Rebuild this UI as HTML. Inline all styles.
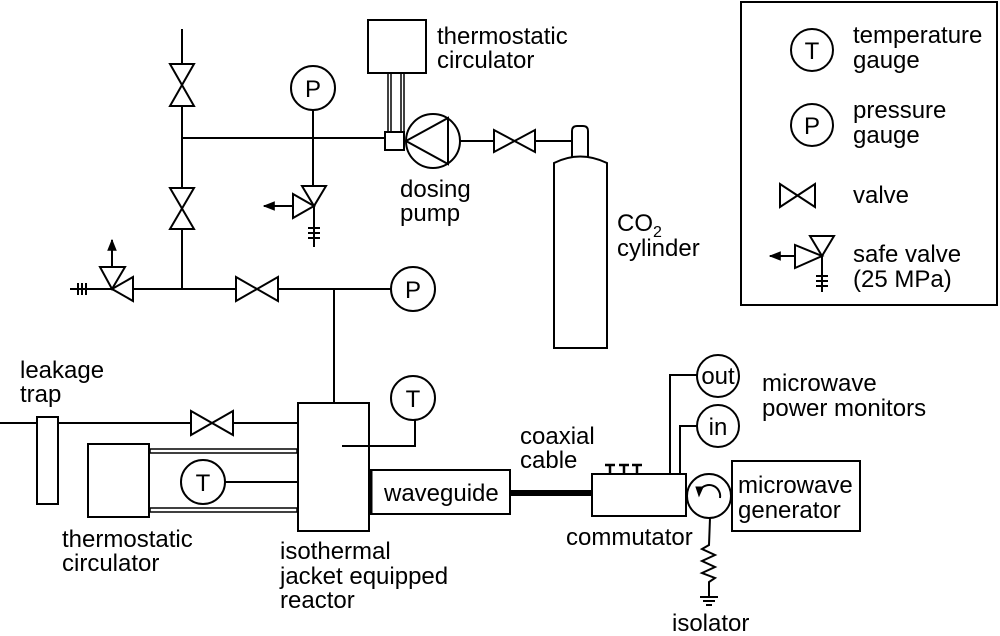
<!DOCTYPE html>
<html><head><meta charset="utf-8"><style>
html,body{margin:0;padding:0;background:#fff}
svg{display:block}
text{font-family:"Liberation Sans",Arial,sans-serif;font-size:24px;fill:#000}
</style></head><body>
<svg width="1000" height="636" viewBox="0 0 1000 636" xmlns="http://www.w3.org/2000/svg">
<defs>
<marker id="ah" viewBox="0 0 10 10" refX="9" refY="5" markerWidth="6" markerHeight="6" orient="auto"><path d="M0,1 L10,5 L0,9 Z" fill="#000"/></marker>
</defs>
<g stroke="#000" stroke-width="2" fill="none">
<rect x="741" y="2" width="256" height="303"/>
<circle cx="812" cy="50" r="21"/>
<circle cx="812" cy="125" r="21"/>
<path d="M780,184 L780,207 L815,184 L815,207 Z"/>
<path d="M810,236 L834,236 L822,256 Z"/>
<path d="M795,245 L795,268 L822,256 Z"/>
<path d="M795,256 L770,256" marker-end="url(#ah)"/>
<path d="M822,256 L822,292 M816,276 L828,276 M816,281 L828,281 M816,286 L828,286"/>

<path d="M182,29 L182,289"/>
<path d="M170,64 L194,64 L170,106 L194,106 Z" fill="#fff"/>
<path d="M170,188 L194,188 L170,229 L194,229 Z" fill="#fff"/>
<path d="M182,138 L385,138"/>
<circle cx="313" cy="88" r="22"/>
<path d="M313,110 L313,186"/>
<path d="M302,186 L326,186 L314,206 Z"/>
<path d="M293,194 L293,218 L314,206 Z"/>
<path d="M293,206 L264,206" marker-end="url(#ah)"/>
<path d="M314,206 L314,247 M308,228 L320,228 M308,233 L320,233 M308,238 L320,238"/>
<rect x="368" y="20" width="58" height="53"/>
<path d="M388,74 L388,132 M391,74 L391,132 M401,74 L401,132 M404,74 L404,132" stroke-width="1.5"/>
<rect x="385" y="132" width="19" height="18"/>
<circle cx="433" cy="141" r="27"/>
<path d="M406,141 L448,118 L448,164 Z"/>
<path d="M460,141 L494,141"/>
<path d="M494,130 L494,152 L535,130 L535,152 Z"/>
<path d="M535,141 L572,141"/>
<path d="M572,157 L572,131 Q572,126 577,126 L583,126 Q588,126 588,131 L588,157"/>
<path d="M554,348 L554,163 Q580,150 607,163 L607,348 Z"/>

<path d="M70,289 L391,289"/>
<path d="M78,283 L78,295 M82,283 L82,295 M86,283 L86,295"/>
<path d="M100,267 L125,267 L112,289 Z" fill="#fff"/>
<path d="M133,277 L133,301 L112,289 Z" fill="#fff"/>
<path d="M112,267 L112,240" marker-end="url(#ah)"/>
<path d="M236,277 L236,301 L278,277 L278,301 Z" fill="#fff"/>
<circle cx="413" cy="289" r="22"/>
<path d="M334,289 L334,403"/>

<path d="M0,423 L298,423"/>
<rect x="37" y="417" width="21" height="87" fill="#fff"/>
<path d="M191,411 L191,435 L233,411 L233,435 Z" fill="#fff"/>
<rect x="298" y="403" width="71" height="128"/>
<rect x="88" y="444" width="61" height="73"/>
<rect x="150" y="449" width="147" height="4" stroke-width="1.5"/>
<rect x="150" y="508" width="147" height="4" stroke-width="1.5"/>
<circle cx="203" cy="482" r="22"/>
<path d="M225,482 L298,482"/>
<circle cx="413" cy="398" r="22"/>
<path d="M415,420 L415,446 L342,446"/>
<rect x="370" y="470" width="140" height="44"/>
<path d="M371,470 L371,514" stroke-width="3"/>

<path d="M510,493 L592,493" stroke-width="6"/>
<rect x="592" y="474" width="94" height="42"/>
<path d="M610,474 L610,466 M605,465 L615,465 M624,474 L624,466 M619,465 L629,465 M637,474 L637,466 M632,465 L642,465" stroke-width="2.5"/>
<circle cx="718" cy="376" r="21"/>
<circle cx="718" cy="426" r="21"/>
<path d="M670,474 L670,375 L697,375"/>
<path d="M680,474 L680,426 L697,426"/>
<circle cx="709" cy="496" r="22"/>
<path d="M720,498 A11,11 0 0 0 700,490"/>
<path d="M696,487 L703,487 L699,496 Z" fill="#000" stroke-width="1"/>
<path d="M710,518 L709,545 L702,549 L715,555 L702,561 L715,567 L702,573 L715,578 L709,582 L709,597 M700,597 L718,597 M703,601 L715,601 M706,605 L712,605"/>
<rect x="732" y="461" width="128" height="70"/>
</g>
<g>
<text x="853" y="43">temperature</text>
<text x="853" y="68">gauge</text>
<text x="853" y="118">pressure</text>
<text x="853" y="143">gauge</text>
<text x="853" y="203">valve</text>
<text x="853" y="262">safe valve</text>
<text x="853" y="287">(25 MPa)</text>
<text x="812" y="59" text-anchor="middle">T</text>
<text x="812" y="134" text-anchor="middle">P</text>
<text x="313" y="97" text-anchor="middle">P</text>
<text x="413" y="298" text-anchor="middle">P</text>
<text x="203" y="491" text-anchor="middle">T</text>
<text x="413" y="407" text-anchor="middle">T</text>
<text x="718" y="384" text-anchor="middle">out</text>
<text x="718" y="435" text-anchor="middle">in</text>
<text x="437" y="44">thermostatic</text>
<text x="437" y="68">circulator</text>
<text x="400" y="197">dosing</text>
<text x="400" y="221">pump</text>
<text x="617" y="231">CO<tspan font-size="16" dy="6">2</tspan></text>
<text x="617" y="256">cylinder</text>
<text x="20" y="378">leakage</text>
<text x="20" y="402">trap</text>
<text x="62" y="547">thermostatic</text>
<text x="62" y="571">circulator</text>
<text x="280" y="559">isothermal</text>
<text x="280" y="584">jacket equipped</text>
<text x="280" y="608">reactor</text>
<text x="384" y="501">waveguide</text>
<text x="520" y="444">coaxial</text>
<text x="520" y="468">cable</text>
<text x="566" y="545">commutator</text>
<text x="672" y="631">isolator</text>
<text x="762" y="391">microwave</text>
<text x="762" y="416">power monitors</text>
<text x="738" y="493">microwave</text>
<text x="738" y="518">generator</text>
</g>
</svg>
</body></html>
